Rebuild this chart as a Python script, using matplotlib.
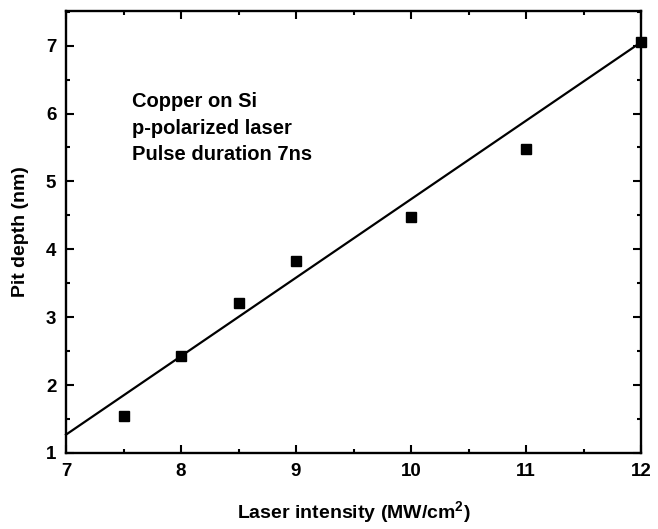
import numpy as np
from matplotlib import pyplot as plt
from matplotlib.ticker import MultipleLocator

plt.rcParams['font.family'] = ['Liberation Sans', 'DejaVu Sans']
plt.rcParams['font.weight'] = 'bold'
plt.rcParams['mathtext.fontset'] = 'custom'
plt.rcParams['mathtext.bf'] = 'Liberation Sans:bold'

# measured pit depths
intensity = [7.5, 8, 8.5, 9, 10, 11, 12]
pit_depth = [1.55, 2.43, 3.21, 3.83, 4.48, 5.48, 7.06]

fit_x = [7, 12]
fit_y = [1.27, 7.05]

notes = ['Copper on Si', 'p-polarized laser', 'Pulse duration 7ns']

fig = plt.figure(figsize=(6.58, 5.29), dpi=100)
ax = fig.add_axes([0.1003, 0.1437, 0.8739, 0.8355])

ax.plot(fit_x, fit_y, color='black', lw=1.6, clip_on=False)
ax.plot(intensity, pit_depth, 's', color='black', ms=7.5, clip_on=False, zorder=3)

ax.set_xlim(7, 12)
ax.set_ylim(1, 7.51)
ax.xaxis.set_major_locator(MultipleLocator(1))
ax.xaxis.set_minor_locator(MultipleLocator(0.5))
ax.yaxis.set_major_locator(MultipleLocator(1))
ax.yaxis.set_minor_locator(MultipleLocator(0.5))
ax.tick_params(which='both', direction='in', top=True, right=True, width=1.5, labelsize=13.5, pad=7)
ax.tick_params(which='major', length=6)
ax.tick_params(which='minor', length=3)
for s in ax.spines.values():
    s.set_linewidth(1.7)

ax.set_xlabel('Laser intensity (MW/cm$^\\mathbf{2}$)', fontsize=14, fontweight='bold', labelpad=14)
ax.set_ylabel('Pit depth (nm)', fontsize=14, fontweight='bold', labelpad=12)

for i, line in enumerate(notes):
    ax.text(7.574, 6.09 - 0.389 * i, line, fontsize=14.5, fontweight='bold', va='baseline')

fig.savefig('out.png', dpi=100)
